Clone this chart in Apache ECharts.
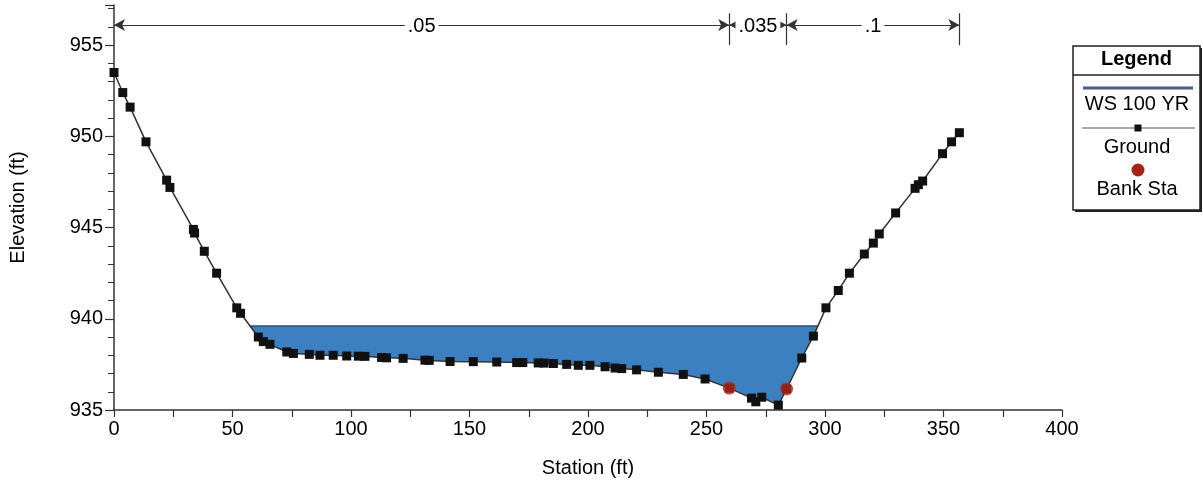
<!DOCTYPE html>
<html><head><meta charset="utf-8">
<script src="https://cdn.jsdelivr.net/npm/echarts@6/dist/echarts.min.js"></script>
<style>html,body{margin:0;padding:0;background:#fff}#c{width:1203px;height:487px}</style>
</head><body><div id="c"></div>
<script>
// ---- data ----
const stations = [0, 3.7, 6.8, 13.5, 22.2, 23.6, 33.5, 34.0, 38.1, 43.3, 51.8, 53.4, 60.9, 63.0, 65.8, 72.9, 75.7, 82.4, 86.9, 92.5, 98.2, 103.1, 105.9, 112.9, 115.0, 122.0, 131.2, 133.0, 141.8, 151.6, 161.5, 169.9, 172.5, 179.0, 181.5, 185.4, 191.0, 195.9, 200.8, 207.2, 211.4, 214.2, 220.5, 229.7, 240.2, 249.4, 259.6, 269.0, 270.8, 273.3, 280.3, 283.8, 290.2, 295.1, 300.4, 305.6, 310.3, 316.6, 320.4, 322.9, 329.8, 338.0, 339.4, 341.2, 349.6, 353.4, 356.7];
const elevations = [953.5, 952.4, 951.6, 949.7, 947.6, 947.2, 944.9, 944.7, 943.7, 942.5, 940.6, 940.3, 939.0, 938.75, 938.6, 938.18, 938.1, 938.05, 938.0, 938.0, 937.96, 937.95, 937.94, 937.88, 937.86, 937.83, 937.73, 937.72, 937.66, 937.65, 937.63, 937.6, 937.6, 937.58, 937.57, 937.55, 937.5, 937.45, 937.45, 937.37, 937.3, 937.27, 937.2, 937.07, 936.95, 936.7, 936.2, 935.65, 935.45, 935.7, 935.27, 936.15, 937.85, 939.05, 940.6, 941.55, 942.5, 943.55, 944.15, 944.65, 945.8, 947.15, 947.35, 947.55, 949.05, 949.7, 950.2];
const wsElevation = 939.6;
const bankStations = [259.6, 283.8];
const bankElevations = [936.2, 936.15];
const nValueLabels = ['.05', '.035', '.1'];
const nValueBounds = [0, 259.6, 283.8, 356.7];
const xTickLabels = [0, 50, 100, 150, 200, 250, 300, 350, 400];
const yTickLabels = [935, 940, 945, 950, 955];

// ---- derived geometry ----
const ground = stations.map((s, i) => [s, elevations[i]]);
let iMin = 0;
elevations.forEach((e, i) => { if (e < elevations[iMin]) iMin = i; });
function crossing(i0, step) {
  let i = i0;
  while (i + step >= 0 && i + step < ground.length && ground[i + step][1] < wsElevation) i += step;
  const a = ground[i], b = ground[i + step];
  const t = (wsElevation - a[1]) / (b[1] - a[1]);
  return { idx: i, pt: [a[0] + t * (b[0] - a[0]), wsElevation] };
}
const L = crossing(iMin, -1), R = crossing(iMin, 1);
const waterPoly = [L.pt, R.pt];
for (let i = R.idx; i >= L.idx; i--) waterPoly.push(ground[i]);
const wsLine = [L.pt, R.pt];
const annY = 956.1, annTop = 956.75, annBot = 955.0;

const FONT = 'Liberation Sans, Arial, sans-serif';
const markData = [];
for (let k = 0; k < nValueLabels.length; k++) {
  markData.push([
    { coord: [nValueBounds[k], annY], name: nValueLabels[k] },
    { coord: [nValueBounds[k + 1], annY] }
  ]);
}
const tickData = nValueBounds.slice(1).map(s => [
  { coord: [s, annTop] }, { coord: [s, annBot] }
]);

const chart = echarts.init(document.getElementById('c'), null, { renderer: 'canvas' });
chart.setOption({
  animation: false,
  textStyle: { fontFamily: FONT },
  grid: { left: 114, right: 141, top: 5, bottom: 77, containLabel: false },
  xAxis: {
    type: 'value', min: 0, max: 400, interval: 25,
    name: 'Station (ft)', nameLocation: 'middle', nameGap: 48,
    nameTextStyle: { fontSize: 20, color: '#000', fontFamily: FONT },
    axisLine: { show: true, lineStyle: { color: '#333', width: 1.5 } },
    axisTick: { show: true, length: 7, lineStyle: { color: '#333', width: 1.2 } },
    axisLabel: { fontSize: 20, color: '#000', margin: 9, fontFamily: FONT,
      formatter: v => xTickLabels.indexOf(v) >= 0 ? String(v) : '' },
    splitLine: { show: false }
  },
  yAxis: {
    type: 'value', min: 935, max: 957.2, interval: 5,
    name: 'Elevation (ft)', nameLocation: 'middle', nameGap: 86, nameRotate: 90,
    nameTextStyle: { fontSize: 20, color: '#000', fontFamily: FONT },
    axisLine: { show: true, lineStyle: { color: '#333', width: 1.5 } },
    axisTick: { show: true, length: 9, lineStyle: { color: '#333', width: 1.2 } },
    minorTick: { show: true, splitNumber: 5, length: 6, lineStyle: { color: '#333', width: 1 } },
    axisLabel: { fontSize: 20, color: '#000', margin: 11, fontFamily: FONT, showMaxLabel: false,
      formatter: v => yTickLabels.indexOf(v) >= 0 ? String(v) : '' },
    splitLine: { show: false }
  },
  series: [
    {
      type: 'custom', name: 'water', z: 1, silent: true,
      data: [waterPoly[0]],
      renderItem: (params, api) => ({
        type: 'polygon',
        shape: { points: waterPoly.map(p => api.coord(p)) },
        style: { fill: '#3d80c2', stroke: null }
      })
    },
    {
      type: 'line', name: 'WS 100 YR', data: wsLine, symbol: 'none', z: 2,
      lineStyle: { color: '#2a4d7e', width: 1.5 }
    },
    {
      type: 'line', name: 'Ground', data: ground, z: 3,
      symbol: 'rect', symbolSize: 9, showAllSymbol: true,
      itemStyle: { color: '#111' },
      lineStyle: { color: '#333', width: 1.5 },
      markLine: {
        silent: true, symbol: ['arrow', 'arrow'], symbolSize: [9, 11],
        lineStyle: { color: '#333', width: 1.2, type: 'solid' },
        label: { show: true, position: 'middle', formatter: p => p.name,
          fontSize: 20, color: '#000', fontFamily: FONT,
          backgroundColor: '#fff', padding: [0, 3], distance: -11 },
        data: markData
      }
    },
    {
      type: 'line', name: 'ticks', data: [], z: 3,
      markLine: {
        silent: true, symbol: ['none', 'none'],
        lineStyle: { color: '#333', width: 1.2, type: 'solid' },
        label: { show: false },
        data: tickData
      }
    },
    {
      type: 'scatter', name: 'Bank Sta', z: 4,
      data: bankStations.map((s, i) => [s, bankElevations[i]]),
      symbol: 'circle', symbolSize: 13, itemStyle: { color: '#b3261a' }
    }
  ],
  graphic: [
    { type: 'rect', shape: { x: 1075, y: 48, width: 127, height: 164 }, style: { fill: '#222' }, z: 10 },
    { type: 'rect', shape: { x: 1073, y: 46, width: 127, height: 164 }, style: { fill: '#fff', stroke: '#222', lineWidth: 1.5 }, z: 11 },
    { type: 'text', x: 1136.5, y: 59, style: { text: 'Legend', fontSize: 20, fontWeight: 'bold', fill: '#000', align: 'center', verticalAlign: 'middle', fontFamily: FONT }, z: 12 },
    { type: 'line', shape: { x1: 1073, y1: 75, x2: 1200, y2: 75 }, style: { stroke: '#222', lineWidth: 1.5 }, z: 12 },
    { type: 'line', shape: { x1: 1083, y1: 88, x2: 1193, y2: 88 }, style: { stroke: '#4b5b8b', lineWidth: 3 }, z: 12 },
    { type: 'text', x: 1137, y: 104, style: { text: 'WS 100 YR', fontSize: 20, fill: '#000', align: 'center', verticalAlign: 'middle', fontFamily: FONT }, z: 12 },
    { type: 'line', shape: { x1: 1082, y1: 128, x2: 1195, y2: 128 }, style: { stroke: '#555', lineWidth: 1.2 }, z: 12 },
    { type: 'rect', shape: { x: 1134.5, y: 124.5, width: 7, height: 7 }, style: { fill: '#111' }, z: 13 },
    { type: 'text', x: 1137, y: 147, style: { text: 'Ground', fontSize: 20, fill: '#000', align: 'center', verticalAlign: 'middle', fontFamily: FONT }, z: 12 },
    { type: 'circle', shape: { cx: 1138, cy: 170, r: 6.5 }, style: { fill: '#a82316' }, z: 12 },
    { type: 'text', x: 1137, y: 189, style: { text: 'Bank Sta', fontSize: 20, fill: '#000', align: 'center', verticalAlign: 'middle', fontFamily: FONT }, z: 12 }
  ]
});
</script>
</body></html>
